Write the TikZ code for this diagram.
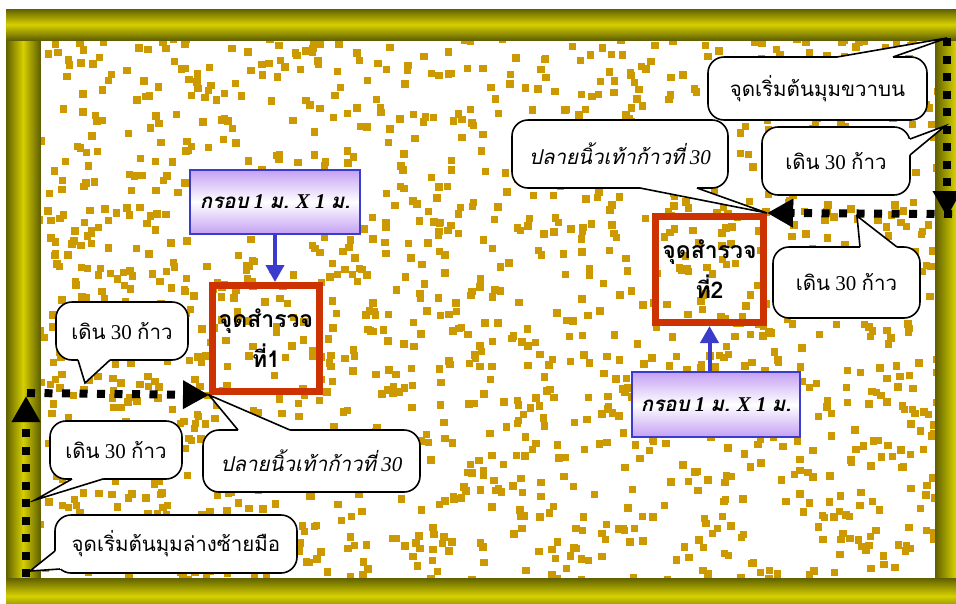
\documentclass[tikz,border=0pt]{standalone}
\usepackage{fontspec}
\setmainfont{Liberation Serif}
\newfontfamily\thai[Script=Thai]{Loma}
\usetikzlibrary{arrows.meta,calc}
\definecolor{dotc}{RGB}{204,153,0}
\definecolor{boxred}{RGB}{204,51,0}
\definecolor{arrblue}{RGB}{60,60,204}
\definecolor{lav}{RGB}{196,160,244}
\definecolor{olivedark}{RGB}{96,96,0}
\definecolor{olivebright}{RGB}{214,208,0}
\tikzset{
  callout/.style={draw=black, line width=1.6pt, fill=white, rounded corners=16pt,
    align=center, inner sep=0pt, font=\fontsize{21}{24}\selectfont},
  tailline/.style={draw=black, line width=1.6pt, line join=miter},
  redbox/.style={draw=boxred, line width=7pt, align=center, inner sep=0pt,
    font=\thai\bfseries\fontsize{23}{40}\selectfont},
  framebox/.style={draw=arrblue, line width=1.6pt, top color=lav, bottom color=lav,
    middle color=white, inner sep=0pt, font=\bfseries\itshape\fontsize{21}{24}\selectfont},
  dotline/.style={line width=8pt, dash pattern=on 8pt off 9.5pt, black},
  bigtip/.style={-{Triangle[length=26pt,width=27pt]}},
  bluearrow/.style={draw=arrblue, line width=4pt, -{Triangle[length=17pt,width=18pt]}},
}
\newcommand\thx[1]{{\thai\fontsize{20.5}{24}\selectfont #1}}
\newcommand\ctail[4]{%
  \fill[white] ($#1+(#4)$) -- #1 -- #2 -- #3 -- ($#3+(#4)$) -- cycle;
  \draw[tailline] #1 -- #2 -- #3;}
\begin{document}
\begin{tikzpicture}[x=1pt,y=-1pt]
\useasboundingbox (0,0) rectangle (956,603);
\clip (0,0) rectangle (956,603);
\fill[white] (0,0) rectangle (956,603);
% interior
\fill[white] (40,40) rectangle (935,578);
\begin{scope}
\clip (40,40) rectangle (935,578);
\pgfmathsetseed{4242}
\foreach \i in {1,...,1550}{
  \pgfmathsetmacro\xx{35+rnd*902}
  \pgfmathsetmacro\yy{35+rnd*542}
  \fill[dotc] (\xx,\yy) rectangle ++(7.5,7.5);
}
\end{scope}
\draw[olivedark, line width=1pt] (40,40) rectangle (935,578);
% frame bars
\shade[left color=olivedark, right color=olivedark, middle color=olivebright] (6,40) rectangle (40,578);
\shade[left color=olivedark, right color=olivedark, middle color=olivebright] (935,40) rectangle (976,578);
\shade[top color=olivedark, bottom color=olivedark, middle color=olivebright] (6,9) rectangle (975,40);
\shade[top color=olivedark, bottom color=olivedark, middle color=olivebright] (6,578) rectangle (975,614);

% survey squares
\node[redbox, minimum width=107pt, minimum height=106pt] (B1) at (266,338.5) {จุดสำรวจ\\ที่1};
\node[redbox, minimum width=108pt, minimum height=106pt] (B2) at (709.5,269.5) {จุดสำรวจ\\ที่2};

% frame labels
\node[framebox, minimum width=170pt, minimum height=64pt] (P1) at (275,202)
  {\thx{กรอบ} 1 \thx{ม.} X 1 \thx{ม.}};
\node[framebox, minimum width=168pt, minimum height=65pt] (P2) at (716,404.5)
  {\thx{กรอบ} 1 \thx{ม.} X 1 \thx{ม.}};
\draw[bluearrow] (P1.south) -- (P1.south |- B1.north);
\draw[bluearrow] (P2.north -| B2.south) -- (B2.south);

% walking paths
\coordinate (TR) at (947,38);
\coordinate (TRc) at (947,217);
\coordinate (TRh) at (952,214);
\coordinate (BL) at (26,577);
\coordinate (BLc) at (26,396);
\coordinate (BLh) at (27,393);
\draw[dotline, bigtip] (TR) -- (TRc);
\draw[dotline, bigtip] (TRh) -- (B2.north east);
\draw[dotline, bigtip] (BL) -- (BLc);
\draw[dotline, bigtip] (BLh) -- (B1.south west);

% callouts
\node[callout, minimum width=219pt, minimum height=63pt] (A) at (817.5,88.5)
  {\thx{จุดเริ่มต้นมุมขวาบน}};
\node[callout, minimum width=148pt, minimum height=68pt] (Bc) at (836,161)
  {\thx{เดิน} 30 \thx{ก้าว}};
\node[callout, minimum width=216pt, minimum height=68pt] (C) at (620,154)
  {\itshape\thx{ปลายนิ้วเท้าก้าวที่} 30};
\node[callout, minimum width=147pt, minimum height=71pt] (D) at (846.5,282.5)
  {\thx{เดิน} 30 \thx{ก้าว}};
\node[callout, minimum width=132pt, minimum height=58pt] (E) at (122,331)
  {\thx{เดิน} 30 \thx{ก้าว}};
\node[callout, minimum width=132pt, minimum height=58pt] (F) at (116,450)
  {\thx{เดิน} 30 \thx{ก้าว}};
\node[callout, minimum width=217pt, minimum height=62pt] (G) at (311.5,461)
  {\itshape\thx{ปลายนิ้วเท้าก้าวที่} 30};
\node[callout, minimum width=242pt, minimum height=58pt] (H) at (176,544)
  {\thx{จุดเริ่มต้นมุมล่างซ้ายมือ}};

% callout tails
\ctail{(837,57)}{(TR)}{(893,57)}{0,3}
\ctail{(910,139)}{(945,126)}{(910,155)}{-3,0}
\ctail{(640,188)}{(B2.north east)}{(697,188)}{0,-3}
\ctail{(860,247)}{(857,216)}{(897,247)}{0,3}
\ctail{(78,360)}{(85,383)}{(110,360)}{0,-3}
\ctail{(72,479)}{(35,500)}{(103,479)}{0,-3}
\ctail{(238,430)}{(B1.south west)}{(290,430)}{0,3}
\ctail{(55,551)}{(30,571)}{(60,569)}{3,-1}
\end{tikzpicture}
\end{document}
